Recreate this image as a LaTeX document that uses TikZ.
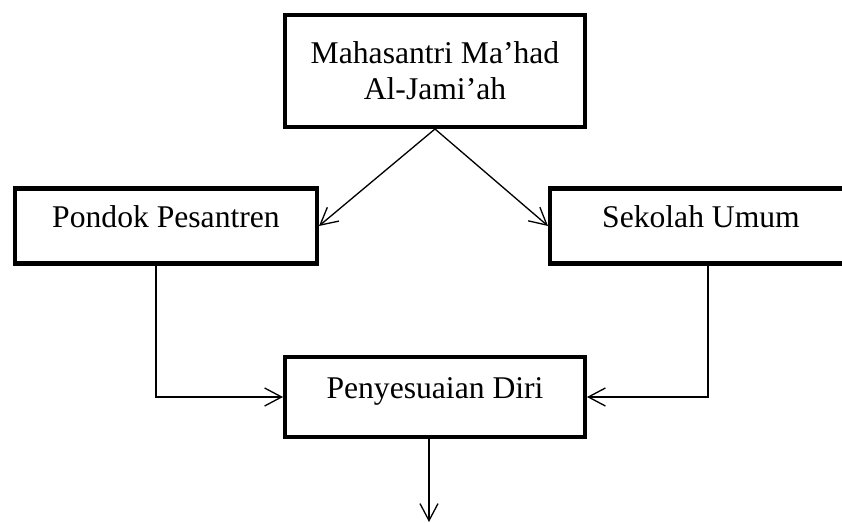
\documentclass[tikz,border=0pt]{standalone}
\usepackage{fontspec}
\setmainfont{Liberation Serif}
\usepackage{tikz}
\usetikzlibrary{arrows.meta,calc,positioning}

\begin{document}
\begin{tikzpicture}[x=0.02cm, y=-0.02cm]
	\tikzstyle{kotak} = [rectangle, draw = black, line width = 2.3pt, inner sep = 0pt, align = center, font = \fontsize{18}{20.6}\selectfont]
	\tikzstyle{satu} = [text height = 0.7em, text depth = 0.5em]
	\tikzstyle{panah} = [line width = 0.75pt, -{Straight Barb[length = 3.4mm, width = 3.6mm]}]
	\useasboundingbox (0,0) rectangle (842,523);
\node[kotak, minimum width = 6cm, minimum height = 2.24cm] (ma) at (435,71) {Mahasantri Ma’had\\Al-Jami’ah};
\node[kotak, satu, minimum width = 6.04cm, minimum height = 1.5cm] (pp) at (166,226) {Pondok Pesantren};
\node[kotak, satu, minimum width = 6.04cm, minimum height = 1.5cm] (su) at (701,226) {Sekolah Umum};
\node[kotak, satu, minimum width = 6cm, minimum height = 1.6cm] (pd) at (435,397) {Penyesuaian Diri};
\coordinate (akhir) at (429,522);
	\draw[panah] (ma.south) -- (pp.east);
	\draw[panah] (ma.south) -- (su.west);
	\draw[panah] (pp.south) ++(-10,0) |- (pd.west);
	\draw[panah] (su.south) ++(7,0) |- (pd.east);
	\draw[panah] (pd.south -| akhir) -- (akhir);
\end{tikzpicture}
\end{document}
